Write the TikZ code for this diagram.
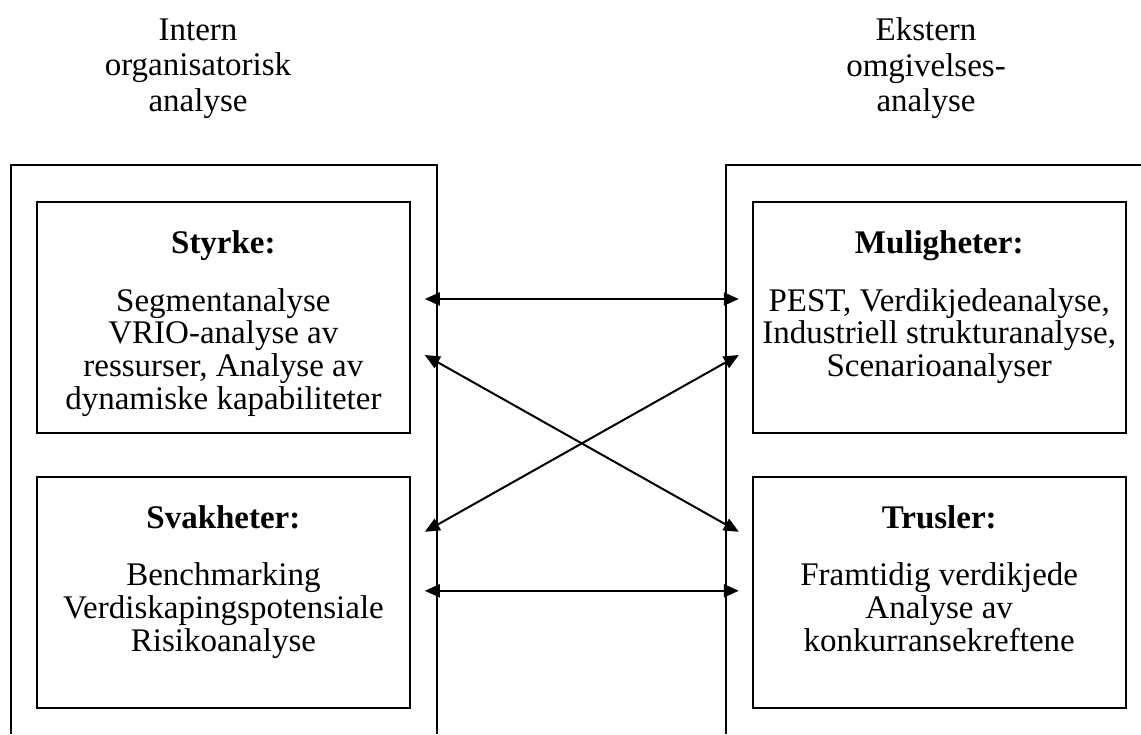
\documentclass[tikz,border=0pt]{standalone}
\usepackage{fontspec}
\setmainfont{Liberation Serif}
\usetikzlibrary{positioning, calc, arrows.meta}

\begin{document}
\begin{tikzpicture}[
    node distance=21pt and 170.5pt, % gap between the boxes
    every node/.style={font=\fontsize{16.5}{16.4}\selectfont},
    box/.style={rectangle, draw, line width=0.9pt, inner sep=0pt,
                minimum width=186.5pt, minimum height=115.5pt},
    txt/.style={anchor=north, align=center, inner sep=0pt},
    side/.style={align=center, inner sep=0pt, font=\fontsize{16.5}{17.75}\selectfont},
    frame/.style={draw, line width=0.7pt},
    arrow/.style={{Triangle[length=7.5pt,width=6.5pt]}-{Triangle[length=7.5pt,width=6.5pt]},
                  line width=1pt}
]

\useasboundingbox (0,0) rectangle (570.5pt,-367pt);
\coordinate (bot) at (0,-367pt);
\coordinate (rgt) at (570.5pt,0);

% Nodes
\node[box, anchor=north west] (sty) at (18pt,-100.5pt) {};
\node[box, below=of sty]  (svak) {};
\node[box, right=of sty]  (mul)  {};
\node[box, right=of svak] (trus) {};

\node[txt] (sty-t)  at ([yshift=-14.5pt]sty.north)
    {\textbf{Styrke:}\\[12.5pt]Segmentanalyse\\VRIO-analyse av\\ressurser, Analyse av\\dynamiske kapabiliteter};
\node[txt] (svak-t) at ([yshift=-14.5pt]svak.north)
    {\textbf{Svakheter:}\\[12.5pt]Benchmarking\\Verdiskapingspotensiale\\Risikoanalyse};
\node[txt] (mul-t)  at ([yshift=-14.5pt]mul.north)
    {\textbf{Muligheter:}\\[12.5pt]PEST, Verdikjedeanalyse,\\Industriell strukturanalyse,\\Scenarioanalyser};
\node[txt] (trus-t) at ([yshift=-14.5pt]trus.north)
    {\textbf{Trusler:}\\[12.5pt]Framtidig verdikjede\\Analyse av\\konkurransekreftene};

\node[side] (intern)  at (99pt,-34.2pt)  {Intern\\organisatorisk\\analyse};
\node[side] (ekstern) at (463pt,-34.2pt) {Ekstern\\omgivelses-\\analyse};

% Frames
\draw[frame] ([xshift=-12.5pt]sty.west |- bot) |- ([yshift=18pt]sty.north)
             -| ([xshift=13pt]sty.east |- bot);
\draw[frame] ([xshift=-13pt]mul.west |- bot) |- ([yshift=18pt]mul.north -| rgt);

% Arrow ends
\coordinate (sA) at ([xshift=7pt,yshift=-49pt]sty.north east);
\coordinate (sB) at ([xshift=7pt,yshift=-77pt]sty.north east);
\coordinate (vA) at ([xshift=7pt,yshift=-28pt]svak.north east);
\coordinate (vB) at ([xshift=7pt,yshift=-57.5pt]svak.north east);
\coordinate (mA) at ([xshift=-6.5pt,yshift=-49pt]mul.north west);
\coordinate (mB) at ([xshift=-6.5pt,yshift=-77pt]mul.north west);
\coordinate (tA) at ([xshift=-6.5pt,yshift=-28pt]trus.north west);
\coordinate (tB) at ([xshift=-6.5pt,yshift=-57.5pt]trus.north west);

% Edges
\draw[arrow] (sA) -- (mA);
\draw[arrow] (sB) -- (tA);
\draw[arrow] (vA) -- (mB);
\draw[arrow] (vB) -- (tB);

\end{tikzpicture}
\end{document}
